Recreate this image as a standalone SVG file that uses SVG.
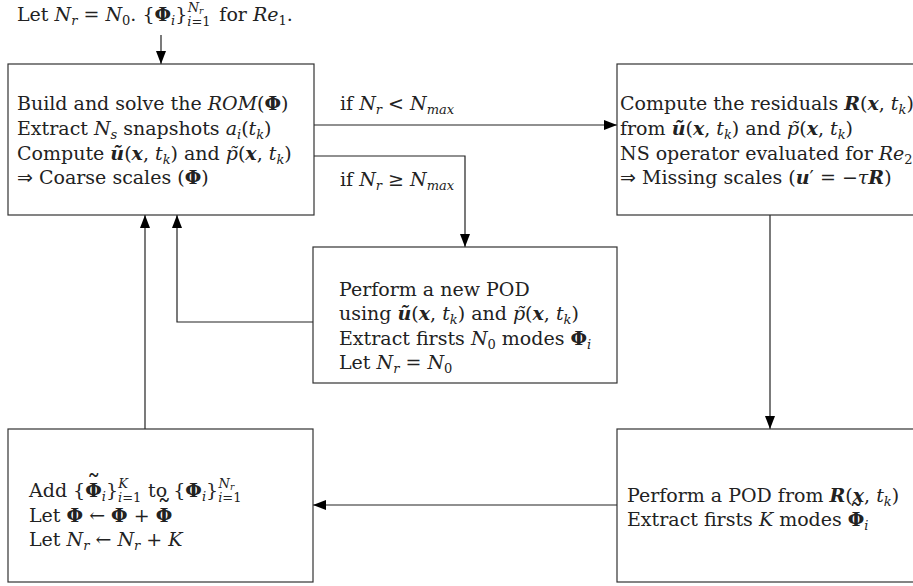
<svg xmlns="http://www.w3.org/2000/svg" width="913" height="586" viewBox="0 0 913 586">
<style>
text{font-family:"DejaVu Serif","Liberation Serif",serif;font-size:19px;fill:#222}
.i{font-style:italic}
.b{font-weight:bold}
.bi{font-weight:bold;font-style:italic}
.s{font-size:13px}
.ss{font-size:9px}
.ar{font-family:"DejaVu Sans",sans-serif}
.t{font-size:28px;font-weight:normal}
.box{fill:#fff;stroke:#333;stroke-width:1.2}
.c{fill:none;stroke:#222;stroke-width:1.2}
</style>
<defs>
<marker id="ah" markerUnits="userSpaceOnUse" markerWidth="14" markerHeight="10" refX="13" refY="5" orient="auto">
<path d="M0,0 L13,5 L0,10 z" fill="#000"/>
</marker>
</defs>
<g id="start">
<text x="17" y="21">Let <tspan class="i">N</tspan><tspan class="i s" dy="4">r</tspan><tspan dy="-4"> = </tspan><tspan class="i">N</tspan><tspan class="s" dy="4">0</tspan><tspan dy="-4">. {</tspan><tspan class="b">Φ</tspan><tspan class="i s" dy="4">i</tspan><tspan dy="-4">}</tspan><tspan class="s" dy="5"><tspan class="i">i</tspan>=1</tspan><tspan class="i s" dx="-23" dy="-14">N</tspan><tspan class="i ss" dy="2">r</tspan><tspan dx="10" dy="7"> for </tspan><tspan class="i">Re</tspan><tspan class="s" dy="4">1</tspan><tspan dy="-4">.</tspan></text>
</g>
<g id="connectors">
<line class="c" x1="161" y1="35" x2="161" y2="64" marker-end="url(#ah)"/>
<line class="c" x1="314" y1="125" x2="617" y2="125" marker-end="url(#ah)"/>
<polyline class="c" points="314,156 465,156 465,247" marker-end="url(#ah)"/>
<line class="c" x1="770" y1="215" x2="770" y2="429" marker-end="url(#ah)"/>
<line class="c" x1="617" y1="505" x2="313" y2="505" marker-end="url(#ah)"/>
<line class="c" x1="145" y1="429" x2="145" y2="215" marker-end="url(#ah)"/>
<polyline class="c" points="313,322 177,322 177,215" marker-end="url(#ah)"/>
<text x="340" y="110">if <tspan class="i">N</tspan><tspan class="i s" dy="4">r</tspan><tspan dy="-4"> &lt; </tspan><tspan class="i">N</tspan><tspan class="i s" dy="4">max</tspan></text>
<text x="340" y="186">if <tspan class="i">N</tspan><tspan class="i s" dy="4">r</tspan><tspan dy="-4"> ≥ </tspan><tspan class="i">N</tspan><tspan class="i s" dy="4">max</tspan></text>
</g>
<g id="rom">
<rect class="box" x="8" y="64" width="306" height="151"/>
<text x="17" y="110">Build and solve the <tspan class="i">ROM</tspan>(<tspan class="b">Φ</tspan>)</text>
<text x="17" y="135">Extract <tspan class="i">N</tspan><tspan class="i s" dy="4">s</tspan><tspan dy="-4"> snapshots </tspan><tspan class="i">a</tspan><tspan class="i s" dy="4">i</tspan><tspan dy="-4">(</tspan><tspan class="i">t</tspan><tspan class="i s" dy="4">k</tspan><tspan dy="-4">)</tspan></text>
<text x="17" y="160">Compute <tspan class="bi">ũ</tspan>(<tspan class="bi">x</tspan>, <tspan class="i">t</tspan><tspan class="i s" dy="4">k</tspan><tspan dy="-4">) and </tspan><tspan class="i">p̃</tspan>(<tspan class="bi">x</tspan>, <tspan class="i">t</tspan><tspan class="i s" dy="4">k</tspan><tspan dy="-4">)</tspan></text>
<text x="17" y="184"><tspan class="ar">⇒</tspan> Coarse scales (<tspan class="b">Φ</tspan>)</text>
</g>
<g id="residuals">
<rect class="box" x="617" y="64" width="310" height="151"/>
<text x="620" y="110">Compute the residuals <tspan class="bi">R</tspan>(<tspan class="bi">x</tspan>, <tspan class="i">t</tspan><tspan class="i s" dy="4">k</tspan><tspan dy="-4">)</tspan></text>
<text x="620" y="135">from <tspan class="bi">ũ</tspan>(<tspan class="bi">x</tspan>, <tspan class="i">t</tspan><tspan class="i s" dy="4">k</tspan><tspan dy="-4">) and </tspan><tspan class="i">p̃</tspan>(<tspan class="bi">x</tspan>, <tspan class="i">t</tspan><tspan class="i s" dy="4">k</tspan><tspan dy="-4">)</tspan></text>
<text x="620" y="160">NS operator evaluated for <tspan class="i">Re</tspan><tspan class="s" dy="4">2</tspan></text>
<text x="620" y="184"><tspan class="ar">⇒</tspan> Missing scales (<tspan class="bi">u</tspan>′ = −<tspan class="i">τ</tspan><tspan class="bi">R</tspan>)</text>
</g>
<g id="newpod">
<rect class="box" x="313" y="247" width="304" height="136"/>
<text x="339" y="296">Perform a new POD</text>
<text x="339" y="320">using <tspan class="bi">ũ</tspan>(<tspan class="bi">x</tspan>, <tspan class="i">t</tspan><tspan class="i s" dy="4">k</tspan><tspan dy="-4">) and </tspan><tspan class="i">p̃</tspan>(<tspan class="bi">x</tspan>, <tspan class="i">t</tspan><tspan class="i s" dy="4">k</tspan><tspan dy="-4">)</tspan></text>
<text x="339" y="345">Extract firsts <tspan class="i">N</tspan><tspan class="s" dy="4">0</tspan><tspan dy="-4"> modes </tspan><tspan class="b">Φ</tspan><tspan class="i s" dy="4">i</tspan></text>
<text x="339" y="369">Let <tspan class="i">N</tspan><tspan class="i s" dy="4">r</tspan><tspan dy="-4"> = </tspan><tspan class="i">N</tspan><tspan class="s" dy="4">0</tspan></text>
</g>
<g id="add">
<rect class="box" x="8" y="429" width="305" height="153"/>
<text x="29" y="497">Add {<tspan class="b">Φ</tspan><tspan class="t" dx="-15" dy="-2">˜</tspan><tspan class="i s" dx="1" dy="6">i</tspan><tspan dy="-4">}</tspan><tspan class="s" dy="5"><tspan class="i">i</tspan>=1</tspan><tspan class="i s" dx="-23" dy="-14">K</tspan><tspan dx="14" dy="9"> to {</tspan><tspan class="b">Φ</tspan><tspan class="i s" dy="4">i</tspan><tspan dy="-4">}</tspan><tspan class="s" dy="5"><tspan class="i">i</tspan>=1</tspan><tspan class="i s" dx="-23" dy="-14">N</tspan><tspan class="i ss" dy="2">r</tspan></text>
<text x="29" y="522">Let <tspan class="b">Φ</tspan> ← <tspan class="b">Φ</tspan> + <tspan class="b">Φ</tspan><tspan class="t" dx="-15" dy="-2">˜</tspan></text>
<text x="29" y="546">Let <tspan class="i">N</tspan><tspan class="i s" dy="4">r</tspan><tspan dy="-4"> ← </tspan><tspan class="i">N</tspan><tspan class="i s" dy="4">r</tspan><tspan dy="-4"> + </tspan><tspan class="i">K</tspan></text>
</g>
<g id="pod">
<rect class="box" x="617" y="429" width="310" height="153"/>
<text x="627" y="502">Perform a POD from <tspan class="bi">R</tspan>(<tspan class="bi">x</tspan>, <tspan class="i">t</tspan><tspan class="i s" dy="4">k</tspan><tspan dy="-4">)</tspan></text>
<text x="627" y="526">Extract firsts <tspan class="i">K</tspan> modes <tspan class="b">Φ</tspan><tspan class="t" dx="-15" dy="-2">˜</tspan><tspan class="i s" dx="1" dy="6">i</tspan></text>
</g>
</svg>
